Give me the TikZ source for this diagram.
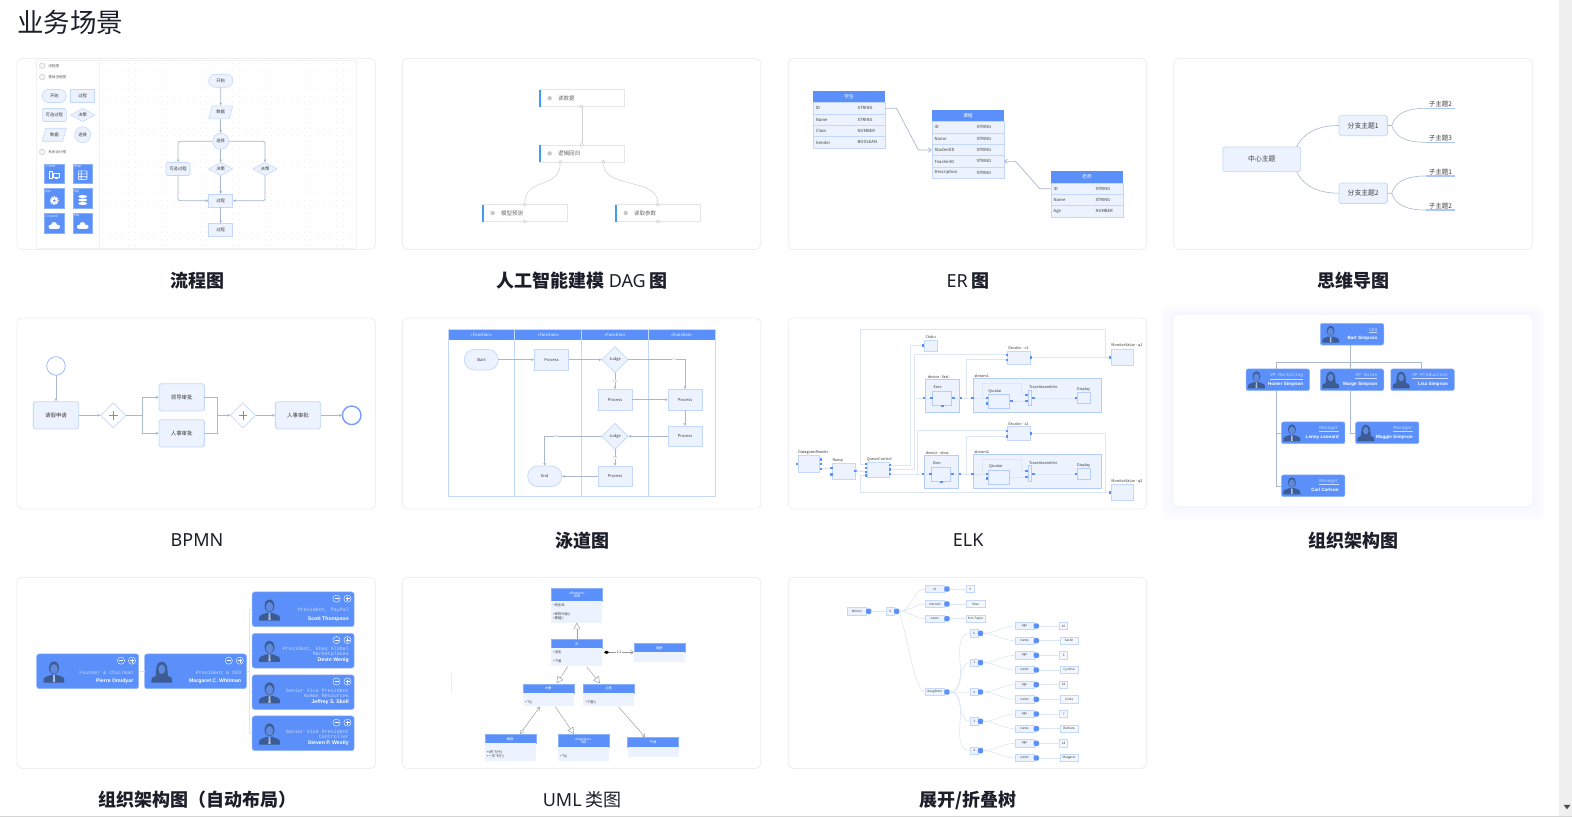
\documentclass[tikz,border=0pt]{standalone}
\usepackage{fontspec}
\setmainfont{Noto Sans CJK SC}
\newfontfamily\monofnt{Liberation Mono}
\newfontfamily\namefnt{Liberation Sans}
\newfontfamily\latinfnt{Noto Sans}
\usepackage{tikz}
\usetikzlibrary{arrows.meta,shapes.geometric,calc}
\definecolor{blueh}{HTML}{5B8FF9}
\definecolor{nodefill}{HTML}{EDF3FE}
\definecolor{nodeline}{HTML}{C3D8FA}
\definecolor{edgeline}{HTML}{A9B8CC}
\definecolor{softline}{HTML}{DDE6F3}
\definecolor{cardline}{HTML}{ECEEF2}
\definecolor{ink}{HTML}{3A3A3A}
\definecolor{titleink}{HTML}{1C1F2A}
\definecolor{avatarc}{HTML}{3D5C94}
\definecolor{avatarf}{HTML}{5F89DC}
\definecolor{paleuline}{HTML}{C9DAFC}
\definecolor{dagblue}{HTML}{3F9BF5}

\begin{document}
\begin{tikzpicture}[x=1pt, y=-1pt,
	every node/.style={inner sep=0pt, outer sep=0pt, text=ink, font=\fontsize{4.3}{4.8}\selectfont},
	>={Latex[length=3pt,width=3pt]},
	fs/.style={font=\fontsize{#1}{#1}\selectfont},
	cardbox/.style={draw=cardline, fill=white, line width=.8pt, rounded corners=5pt, minimum width=358.5pt, minimum height=191pt},
	cardlabel/.style={text=titleink, fs=18},
	fbox/.style={draw=nodeline, fill=nodefill, line width=.6pt, minimum width=24pt, minimum height=13pt},
	fpill/.style={fbox, rounded corners=6.4pt},
	fround/.style={fbox, rounded corners=1.6pt},
	fdia/.style={fbox, diamond, aspect=1.85},
	fpara/.style={fbox, trapezium, trapezium left angle=65, trapezium right angle=115, trapezium stretches=true},
	fcirc/.style={draw=nodeline, fill=nodefill, line width=.6pt, circle, minimum size=16pt},
	fedge/.style={draw=edgeline, line width=.7pt, rounded corners=2pt, ->},
	radio/.style={draw=black!25, fill=black!4, circle, line width=.4pt, minimum size=5.6pt},
	sidetext/.style={text=black!60, fs=3.6},
	iconbox/.style={fill=blueh, draw=blueh!70!white, line width=.4pt, minimum size=19.3pt},
	iconname/.style={text=white!85!blueh, fs=3.6, anchor=north west},
	iconline/.style={draw=white, line width=.6pt},
	dagbox/.style={draw=black!10, fill=white, line width=.6pt, minimum width=85.5pt, minimum height=17pt},
	dagbar/.style={fill=dagblue, minimum width=1.5pt, minimum height=17pt},
	dagport/.style={draw=black!25, fill=white, circle, line width=.35pt, minimum size=3.2pt},
	dagedge/.style={draw=black!17, line width=.6pt},
	dagtext/.style={text=black!60, fs=5.5, anchor=west},
	dagdot/.style={fill=black!22, circle, minimum size=4.4pt},
	erhead/.style={fill=blueh, minimum width=72pt, minimum height=11.7pt, text=white, fs=4.8, anchor=north},
	errow/.style={draw=nodeline, fill=nodefill, line width=.6pt, minimum width=72pt, minimum height=11.33pt, anchor=north},
	ertext/.style={fs=4.2, anchor=west},
	eredge/.style={draw=edgeline, line width=.7pt, -{Straight Barb[length=3pt,width=4.5pt]}},
	mmbox/.style={draw=nodeline, fill=nodefill, line width=.8pt, rounded corners=1.8pt, fs=6.8},
	mmedge/.style={draw=edgeline, line width=.6pt},
	mmleaf/.style={minimum width=29.3pt, minimum height=7.6pt, fs=6.5},
	mmbar/.style={draw=blueh!50, line width=1.2pt},
	bpbox/.style={draw=nodeline, fill=nodefill, line width=.8pt, rounded corners=1.8pt, minimum width=45.3pt, minimum height=27.3pt, fs=5.4},
	bpdia/.style={draw=nodeline, fill=white, line width=.7pt, diamond, minimum size=25pt},
	bpedge/.style={draw=edgeline, line width=.7pt, ->},
	bpline/.style={draw=edgeline, line width=.7pt},
	bpplus/.style={draw=blueh, line width=1pt},
	swbox/.style={draw=nodeline, fill=nodefill, line width=.7pt, minimum width=34pt, minimum height=20.5pt, fs=4},
	swpill/.style={swbox, rounded corners=10pt},
	swdia/.style={draw=nodeline, fill=nodefill, line width=.7pt, diamond, minimum size=26pt, fs=4},
	swedge/.style={draw=edgeline, line width=.6pt, ->},
	swlane/.style={draw=nodeline, line width=.8pt},
	swhead/.style={fill=blueh, text=white, fs=4.2, minimum width=66.8pt, minimum height=10pt},
	swtag/.style={text=black!30, fs=3, fill=white},
	elkbox/.style={draw=nodeline, fill=nodefill, line width=.7pt},
	elkgroup/.style={draw=blueh!45, fill=nodefill, line width=.7pt},
	elkport/.style={fill=blueh, minimum size=2.4pt},
	elkedge/.style={draw=softline, line width=1pt},
	elktext/.style={fs=3.8, anchor=south},
	orgbox/.style={fill=blueh, draw=blueh!65!white, line width=.5pt, rounded corners=2pt, minimum width=63.5pt, minimum height=21.7pt},
	orgline/.style={draw=edgeline, line width=.6pt},
	orgrole/.style={text=paleuline, font=\monofnt\fontsize{4.6}{5}\selectfont, anchor=east},
	orgname/.style={text=white, font=\namefnt\bfseries\fontsize{4.6}{5}\selectfont, anchor=east},
	autobox/.style={orgbox, minimum width=102pt, minimum height=34.7pt, rounded corners=2.5pt},
	autorole/.style={text=paleuline, font=\monofnt\fontsize{5}{5.4}\selectfont, anchor=east, align=right},
	autoname/.style={text=white, font=\namefnt\bfseries\fontsize{5.2}{5.6}\selectfont, anchor=east},
	autobtn/.style={draw=white, circle, line width=.4pt, minimum size=7.2pt},
	umlhead/.style={fill=blueh, draw=blueh!70!white, line width=.4pt, text=white, fs=3.3, minimum width=51pt, anchor=north, align=center},
	umlbody/.style={fill=nodefill, minimum width=51pt, anchor=north},
	umltext/.style={fs=3.3, anchor=west, align=left},
	umledge/.style={draw=black!40, line width=.45pt},
	umltri/.style={umledge, -{Triangle[open, fill=white, length=6.5pt, width=7pt]}},
	umlopen/.style={umledge, -{Straight Barb[length=3pt,width=4pt]}},
	treebox/.style={draw=nodeline, fill=nodefill, line width=.6pt, minimum width=19pt, minimum height=7.3pt, fs=3.1},
	treeval/.style={draw=nodeline, fill=nodefill!60!white, line width=.6pt, minimum height=7.3pt, fs=3.1},
	treebtn/.style={fill=blueh, rounded corners=1.5pt, minimum size=5.4pt},
	treeline/.style={draw=softline, line width=.6pt},
	avatarm/.pic={
		\fill[avatarc] (-8.4,8.5) -- (-8.4,6.2) .. controls (-8.4,3.8) and (-5,3.6) .. (-2.6,2.4) -- (2.6,2.4) .. controls (5,3.6) and (8.4,3.8) .. (8.4,6.2) -- (8.4,8.5) -- cycle;
		\fill[avatarc] (0,-3.4) ellipse (4pt and 5.1pt);
		\fill[avatarf] (0,-2.5) ellipse (3pt and 3.9pt);
		\fill[white!60!avatarc] (-.6,2.6) -- (.6,2.6) -- (.9,8) -- (-.9,8) -- cycle;
	},
	avatarw/.pic={
		\fill[avatarc] (-8.4,8.5) -- (-8.4,6.2) .. controls (-8.4,3.6) and (-5,3.6) .. (-2.6,2.4) -- (2.6,2.4) .. controls (5,3.6) and (8.4,3.6) .. (8.4,6.2) -- (8.4,8.5) -- cycle;
		\fill[avatarc] (-4.9,3.6) .. controls (-4.6,1) and (-5.4,-8.2) .. (0,-8.2) .. controls (5.4,-8.2) and (4.6,1) .. (4.9,3.6) -- cycle;
		\fill[avatarf] (0,-2.2) ellipse (2.8pt and 3.8pt);
	},
	cloudicon/.pic={
		\fill[white] (-3.8,1.2) circle (2pt) (3.8,1.2) circle (2pt) (-.3,-.6) circle (3pt) (-3.8,-.8) rectangle (3.8,3.2);
	},
]
	\useasboundingbox (0,0) rectangle (1572,817);
	\fill[white] (0,0) rectangle (1572,817);
	\fill[black!6] (1559,0) rectangle (1572,816);
	\fill[black!70] (1563.5,804.8) -- (1570.5,804.8) -- (1567,809.2) -- cycle;
	\fill[blue!20!black!17] (0,816) rectangle (1572,817);
	\node[text=titleink, fs=26.5, anchor=west] (pagetitle) at (17,22) {业务场景};

	\foreach \s in {1,...,9}
		\fill[blue!50!cyan, opacity=.004, rounded corners=6pt] (1173.3-\s*1.4,315+\s*.3-\s*1.4) rectangle (1532.7+\s*1.4,505.8+\s*1.8);
	\foreach \nm/\cx/\cy in {a/196.3/153.9, b/581.6/153.9, c/967.5/153.9, d/1353/153.9, e/196.3/413.5, f/581.6/413.5, g/967.5/413.5, i/196.3/673, j/581.6/673, k/967.5/673}
		\node[cardbox] (card\nm) at (\cx,\cy) {};
	\node[cardbox, draw=none] (cardh) at (1353,410.4) {};
	\foreach \nm/\cx/\cy/\txt in {a/197/281/{\bfseries 流程图}, b/582.3/281/{\bfseries 人工智能建模} {\latinfnt DAG} {\bfseries 图}, c/968.2/281/{\latinfnt ER} {\bfseries 图}, d/1353.7/281/{\bfseries 思维导图},
		e/197/540.5/{\latinfnt BPMN}, f/582.3/540.5/{\bfseries 泳道图}, g/968.2/540.5/{\latinfnt ELK}, h/1353.7/540.5/{\bfseries 组织架构图},
		i/197/800/{\bfseries 组织架构图（自动布局）}, j/582.3/800/{\latinfnt UML} 类图, k/968.2/800/{\bfseries 展开/折叠树}}
		\node[cardlabel] (label\nm) at (\cx,\cy) {\txt};

	\begin{scope}
		\draw[black!5, line width=.5pt] (36.7,60.3) -- (356.3,60.3) (36.7,248.4) -- (356.3,248.4) (36.7,60.3) -- (36.7,248.4) (99.3,60.3) -- (99.3,248.4) (356.3,60.3) -- (356.3,248.4);
		\foreach \x in {102,108.5,...,354}
			\foreach \y in {63,69.5,...,246}
				\fill[black!7] (\x,\y) rectangle ++(.6,.6);
		\node[radio] (r1) at (42.3,65.7) {};
		\node[radio] (r2) at (42.3,77) {};
		\node[radio] (r3) at (42.3,152) {};
		\node[sidetext, anchor=west] (r1t) at (48.3,65.7) {流程图};
		\node[sidetext, anchor=west] (r2t) at (48.3,77) {基础流程图};
		\node[sidetext, anchor=west] (r3t) at (48.3,152) {系统设计图};
		\node[fpill] (s1) at (54.3,96) {开始};
		\node[fbox] (s2) at (82.7,96) {过程};
		\node[fround] (s3) at (54.3,115) {可选过程};
		\node[fdia] (s4) at (82.7,115) {决策};
		\node[fpara] (s5) at (54.3,134.7) {数据};
		\node[fcirc] (s6) at (82.7,134.7) {连接};
		\foreach \nm/\cx/\cy/\txt in {ic1/54.3/173.7/Client, ic2/82.7/173.7/Http, ic3/54.3/198.3/Api, ic4/82.7/198.3/Sql, ic5/54.3/223.3/Clound, ic6/82.7/223.3/Mq} {
			\node[iconbox] (\nm) at (\cx,\cy) {};
			\node[iconname] (\nm t) at ([xshift=.8pt,yshift=-.6pt]\nm.north west) {\txt};
		}
		\draw[iconline] (49.7,171) rectangle (52.5,178.3) (53.6,173.4) rectangle (58.8,176.8) (55,178.3) -- (57.5,178.3);
		\draw[iconline, rounded corners=.8pt] (78.4,170.8) rectangle (87,179.6) (78.4,173.8) -- (87,173.8) (78.4,176.7) -- (87,176.7) (81.2,170.8) -- (81.2,179.6);
		\draw[white, line width=1pt, dash pattern=on 1pt off .9pt] (54.3,200.6) circle (4.1pt);
		\fill[white] (54.3,200.6) circle (3.4pt);
		\fill[blueh] (54.3,200.6) circle (1.4pt);
		\foreach \y in {196.5,200,203.5}
			\fill[white] (82.7,\y) ellipse (4.5pt and 1.5pt);
		\pic at (54.3,225.6) {cloudicon};
		\pic at (82.7,225.6) {cloudicon};

		\node[fpill] (f1) at (220.7,80.7) {开始};
		\node[fpara] (f2) at (220.7,112.3) {数据};
		\node[fcirc] (f3) at (220.7,141.3) {选择};
		\node[fround] (f4) at (178,169) {可选过程};
		\node[fdia] (f5) at (220.7,169) {决策};
		\node[fdia] (f6) at (265,169) {决策};
		\node[fbox] (f7) at (220.7,200.7) {过程};
		\node[fbox] (f8) at (220.7,230) {过程};
		\draw[fedge] (f1) -- (f2);
		\draw[fedge] (f2) -- (f3);
		\draw[fedge] (f3) -| (f4);
		\draw[fedge] (f3) -- (f5);
		\draw[fedge] (f3) -| (f6);
		\draw[fedge] (f4) |- (f7);
		\draw[fedge] (f5) -- (f7);
		\draw[fedge] (f6) |- (f7);
		\draw[fedge] (f7) -- (f8);
	\end{scope}

	\begin{scope}
		\foreach \nm/\cx/\cy/\txt in {1/581.8/98.2/读数据, 2/581.8/153.4/逻辑回归, 3/524.8/213/模型预测, 4/657.8/213/读取参数} {
			\node[dagbox] (dag\nm) at (\cx,\cy) {};
			\node[dagbar] (dag\nm b) at ([xshift=.75pt]dag\nm.west) {};
			\node[dagdot] (dag\nm d) at ([xshift=10.6pt]dag\nm.west) {};
			\node[dagtext] (dag\nm t) at ([xshift=19pt]dag\nm.west) {\txt};
		}
		\node[dagport] (dp1) at (dag1.south) {};
		\node[dagport] (dp2) at (dag2.north) {};
		\node[dagport] (dp3) at ([xshift=-21.6pt]dag2.south) {};
		\node[dagport] (dp4) at ([xshift=21.6pt]dag2.south) {};
		\node[dagport] (dp5) at (dag3.north) {};
		\node[dagport] (dp6) at (dag3.south) {};
		\node[dagport] (dp7) at (dag4.north) {};
		\node[dagport] (dp8) at (dag4.south) {};
		\draw[dagedge] (dp1) -- (dp2);
		\draw[dagedge] (dp3) .. controls +(0,27) and +(0,-27) .. (dp5);
		\draw[dagedge] (dp4) .. controls +(0,27) and +(0,-27) .. (dp7);
	\end{scope}

	\begin{scope}
		\foreach \tb/\cx/\ty/\ttl/\rows in {stu/849.1/91/学生/{ID/STRING,Name/STRING,Class/NUMBER,Gender/BOOLEAN},
			cou/967.9/110/课程/{ID/STRING,Name/STRING,StudentID/STRING,TeacherID/STRING,Description/STRING},
			tea/1086.9/171.3/老师/{ID/STRING,Name/STRING,Age/NUMBER}} {
			\node[erhead] (\tb0) at (\cx,\ty) {\ttl};
			\foreach \ka/\va [count=\i] in \rows {
				\node[errow] (\tb\i) at ($(\cx,\ty)+(0,11.7)+(0,11.33*\i-11.33)$) {};
				\node[ertext] (\tb\i k) at ([xshift=2.8pt]\tb\i.west) {\ka};
				\node[ertext] (\tb\i v) at ([xshift=44.6pt]\tb\i.west) {\va};
			}
		}
		\coordinate (erA) at (896.5,108.3);
		\coordinate (erB) at (918.3,150);
		\coordinate (erC) at (1039.7,188.7);
		\coordinate (erD) at (1015.6,161.4);
		\draw[eredge] (stu1.east) -- (erA) -- (erB) -- (cou3.west);
		\draw[eredge] (tea1.west) -- (erC) -- (erD) -- (cou4.east);
	\end{scope}

	\begin{scope}
		\node[mmbox, minimum width=77.7pt, minimum height=24.7pt] (mm0) at (1261.8,159.3) {中心主题};
		\node[mmbox, minimum width=48.3pt, minimum height=20.4pt] (mm1) at (1363.2,125.5) {分支主题1};
		\node[mmbox, minimum width=48.3pt, minimum height=20.4pt] (mm2) at (1363.2,193.2) {分支主题2};
		\foreach \nm/\cy/\txt in {a/104.5/子主题2, b/138.5/子主题3, c/172.2/子主题1, d/206.2/子主题2} {
			\node[mmleaf] (mml\nm) at (1440.3,\cy) {\txt};
			\draw[mmbar] (mml\nm.south west) -- (mml\nm.south east);
		}
		\draw[mmedge] ([xshift=-4pt]mm0.north east) .. controls +(7,-15) and +(-20,0) .. (mm1.west);
		\draw[mmedge] ([xshift=-4pt]mm0.south east) .. controls +(7,15) and +(-20,0) .. (mm2.west);
		\foreach \br/\la/\lb in {1/a/b, 2/c/d} {
			\draw[mmedge] (mm\br.east) -- ++(4.4,0) coordinate (mmj\br) .. controls +(4,-13) and +(-17,0) .. (mml\la.south west);
			\draw[mmedge] (mmj\br) .. controls +(4,13) and +(-17,0) .. (mml\lb.south west);
		}
	\end{scope}

	\begin{scope}
		\node[circle, draw=blueh!60, fill=white, line width=.8pt, minimum size=18.6pt] (bpS) at (56,366) {};
		\node[bpbox] (bp1) at (56,415.3) {请假申请};
		\node[bpdia] (bpg1) at (113.3,415.3) {};
		\node[bpbox] (bp2) at (181.7,397.3) {领导审批};
		\node[bpbox] (bp3) at (181.7,433.3) {人事审批};
		\node[bpdia] (bpg2) at (243,415.3) {};
		\node[bpbox] (bp4) at (298,415.3) {人事审批};
		\node[circle, draw=blueh!85, fill=white, line width=1.4pt, minimum size=18.6pt] (bpE) at (351.7,415.3) {};
		\foreach \g in {bpg1,bpg2}
			\draw[bpplus] ([xshift=-4.2pt]\g.center) -- ([xshift=4.2pt]\g.center) ([yshift=-4.2pt]\g.center) -- ([yshift=4.2pt]\g.center);
		\coordinate (bpJ1) at (142.3,415.3);
		\coordinate (bpJ2) at (217.7,415.3);
		\draw[bpedge] (bpS) -- (bp1);
		\draw[bpedge] (bp1) -- (bpg1);
		\draw[bpline] (bpg1) -- (bpJ1);
		\draw[bpedge] (bpJ1) |- (bp2);
		\draw[bpedge] (bpJ1) |- (bp3);
		\draw[bpline] (bp2) -| (bpJ2);
		\draw[bpline] (bp3) -| (bpJ2);
		\draw[bpedge] (bpJ2) -- (bpg2);
		\draw[bpedge] (bpg2) -- (bp4);
		\draw[bpedge] (bp4) -- (bpE);
	\end{scope}

	\begin{scope}
		\foreach \i/\cx in {1/481.4, 2/548.2, 3/615, 4/681.8}
			\node[swhead] (swh\i) at (\cx,335) {«Function»};
		\draw[swlane] (448,329.7) rectangle (715.3,496.7);
		\foreach \x in {514.7,581.6,648.3}
			\draw[swlane] (\x,329.7) -- (\x,496.7);
		\node[swpill] (sw1) at (481.3,359.7) {Start};
		\node[swbox] (sw2) at (551.5,359.7) {Process};
		\node[swdia] (sw3) at (615,359.7) {Judge};
		\node[swbox] (sw4) at (615,399.7) {Process};
		\node[swbox] (sw5) at (685,399.7) {Process};
		\node[swbox] (sw6) at (685,436.3) {Process};
		\node[swdia] (sw7) at (615,436.3) {Judge};
		\node[swbox] (sw8) at (615,476.3) {Process};
		\node[swpill] (sw9) at (544.7,476.3) {End};
		\draw[swedge] (sw1) -- (sw2);
		\draw[swedge] (sw2) -- (sw3);
		\draw[swedge] (sw3) -| node[swtag, pos=.4] (swn1) {No} (sw5);
		\draw[swedge] (sw3) -- node[swtag] (swy1) {Yes} (sw4);
		\draw[swedge] (sw4) -- (sw5);
		\draw[swedge] (sw5) -- (sw6);
		\draw[swedge] (sw6) -- (sw7);
		\draw[swedge] (sw7) -- node[swtag] (swy2) {Yes} (sw8);
		\draw[swedge] (sw8) -- (sw9);
		\draw[swedge] (sw7) -| node[swtag, pos=.4] (swn2) {No} (sw9);
	\end{scope}

	\begin{scope}
		\foreach \nm/\cx/\cy/\w/\h in {elkR/809/463.7/21.3/16.7, elkP/843.7/471.3/22.7/16, elkQ/878.3/469.8/22/15.7, elkB/931/345.7/13.3/11.3, elkC1/1018.8/357.8/22.3/13.7, elkM1/1122.3/357.3/22/16, elkC2/1018.8/433.5/22.3/14.3, elkM2/1122.3/492.2/22/16.3}
			\node[elkbox, minimum width=\w pt, minimum height=\h pt] (\nm) at (\cx,\cy) {};
		\foreach \nm/\cx/\cy/\w/\h in {elkF/942.3/396/34/32.7, elkS/941.3/472/34/32.7, elkT1/1037.3/395.3/128/34, elkT2/1037.3/471.3/128/34}
			\node[elkgroup, minimum width=\w pt, minimum height=\h pt] (\nm) at (\cx,\cy) {};
		\foreach \nm/\cx/\cy/\w/\h in {elkE1/942.2/398.3/19/14, elkE2/941.3/474.2/19/14, elkV1/999/401/21.3/14, elkV2/999/477/21.3/14, elkA1/1030/397.8/3.3/15.7, elkA2/1030/473.5/3.3/15.7, elkD1/1084/397.8/13.3/11, elkD2/1084/473.8/13.3/11}
			\node[elkgroup, minimum width=\w pt, minimum height=\h pt] (\nm) at (\cx,\cy) {};
		\foreach \nm/\cx/\cy/\txt in {tR/813.3/454/DatagramReader, tP/837.7/462.5/Ramp, tQ/879.3/460.8/QueueControl, tB/930.7/339/Ctxbu, tC1/1018.3/349.5/Oscalor - c1, tM1/1127/347.8/MonitorValue - q1, tF/938.3/379/device - fast, tE1/937.7/388.8/Exec, tT1/981.7/377.5/stream1, tV1/995/392.8/Qscalar, tA1/1043.3/388.5/TraceAssembler, tD1/1083.7/391/Display, tC2/1018.3/425.5/Oscalor - c2, tS/937.3/455/device - slow, tE2/937/464.7/Exec, tT2/981.7/453.5/stream2, tV2/995.7/468.5/Qscalar, tA2/1043.3/464.5/TraceAssembler, tD2/1083.7/467/Display, tM2/1127/483.3/MonitorValue - q2}
			\node[elktext] (\nm) at (\cx,\cy) {\txt};
		\coordinate (elkTL) at (860.7,329.7);
		\coordinate (elkTR) at (1105.3,329.7);
		\coordinate (elkBL) at (860.7,492.3);
		\coordinate (elkBR) at (1105.3,492.3);
		\coordinate (elkX1) at (910,345.3);
		\coordinate (elkX2) at (914,354.7);
		\coordinate (elkX3) at (914,398);
		\coordinate (elkX4) at (917.7,474);
		\coordinate (elkX5) at (966.7,398);
		\coordinate (elkX6) at (966.7,474);
		\coordinate (elkU1) at (982,383.3);
		\coordinate (elkU2) at (1021.3,383.3);
		\coordinate (elkU3) at (982,459.3);
		\coordinate (elkU4) at (1021.3,459.3);
		\foreach \nm/\cx/\cy in {pR0/797/463.7, pR1/821/459.3, pR2/821/464, pR3/821/468.7, pP1/831.3/468, pP2/831.3/474.3, pP3/855.3/471, pQ1/866/464, pQ2/866/468, pQ3/866/471.7, pQ4/866/475.3, pQ5/890/465, pQ6/890/469.3, pQ7/890/474, pB1/923/345.3, pC1/1006.7/354.7, pC2/1006.7/359.7, pC3/1031/357.3, pM1/1110/357.3, pF1/924/398, pF2/960.7/398, pE1/931.3/398, pE2/953.3/398, pE3/942.3/406, pT1/972.3/398, pV1/987/398, pV2/987/403.3, pV3/1011.3/401, pA1/1026.3/394.7, pA2/1026.3/401, pA3/1033.3/398, pD1/1076/398, pK1/1006.7/430.7, pK2/1006.7/436.3, pK3/1031/433.3, pS1/923/474, pS2/959.7/474, pG1/930.3/474, pG2/952.3/474, pG3/941.3/481.7, pT2/972.3/474, pW1/987/474, pW2/987/478.3, pA4/1026.3/470.7, pA5/1026.3/477, pA6/1033.3/474, pD2/1076/474, pM2/1110/492.3}
			\node[elkport] (\nm) at (\cx,\cy) {};
		\draw[elkedge] (pQ1) -| (elkTL) -- (elkTR) |- (pM1);
		\draw[elkedge] (pQ4) -| (elkBL) -- (pM2);
		\draw[elkedge] (pC3) -- (pM1);
		\draw[elkedge] (pK3) -| (elkBR);
		\draw[elkedge] (pQ5) -| (elkX1) -- (pB1);
		\draw[elkedge] (pQ6) -| (elkX2) -- (pC1);
		\draw[elkedge] (elkX3) -- (pF1);
		\draw[elkedge] (pQ7) -- (pS1);
		\draw[elkedge] (elkX4) |- (pK1);
		\draw[elkedge] (pF2) -- (pT1);
		\draw[elkedge] (elkX5) |- (pC2);
		\draw[elkedge] (pS2) -- (pT2);
		\draw[elkedge] (elkX6) |- (pK2);
		\draw[elkedge] (pR3) -- (pP1);
		\draw[elkedge] (pP3) -- (pQ3);
		\draw[elkedge] (pF1) -- (pE1);
		\draw[elkedge] (pE2) -- (pF2);
		\draw[elkedge] (pS1) -- (pG1);
		\draw[elkedge] (pG2) -- (pS2);
		\draw[elkedge] (pT1) -- (pV1);
		\draw[elkedge] (pV3) -- (pA2);
		\draw[elkedge] (pA3) -- (pD1);
		\draw[elkedge] (pV1) -| (elkU1) -- (elkU2) |- (pA1);
		\draw[elkedge] (pT2) -- (pW1);
		\draw[elkedge] (elkV2.east |- pA5) -- (pA5);
		\draw[elkedge] (pA6) -- (pD2);
		\draw[elkedge] (pW1) -| (elkU3) -- (elkU4) |- (pA4);
	\end{scope}

	\begin{scope}
		\foreach \i/\cx/\cy/\av/\ttl/\who in {0/1352/334.2/avatarm/CEO/Bart Simpson, 1/1277.8/379.8/avatarm/VP Marketing/Homer Simpson, 2/1352/379.8/avatarw/VP Sales/Marge Simpson, 3/1422.5/379.8/avatarw/VP Production/Lisa Simpson, 4/1313.2/432.8/avatarm/Manager/Lenny Leonard, 5/1387.2/432.8/avatarw/Manager/Maggie Simpson, 6/1313.2/485.8/avatarm/Manager/Carl Carlson} {
			\node[orgbox] (org\i) at (\cx,\cy) {};
			\pic at ([xshift=10.4pt]org\i.west) {\av};
			\node[orgrole] (org\i r) at ([xshift=-6.3pt,yshift=3.6pt]org\i.east) {\underline{\ttl}};
			\node[orgname] (org\i n) at ([xshift=-6.3pt,yshift=-4.2pt]org\i.east) {\who};
		}
		\coordinate (orgbus) at (1350.5,362);
		\draw[orgline] ([xshift=-1.5pt]org0.south) -- (orgbus);
		\draw[orgline] (orgbus) -| ([xshift=-1.5pt]org1.north);
		\draw[orgline] (orgbus) -- ([xshift=-1.5pt]org2.north);
		\draw[orgline] (orgbus) -| ([xshift=-1.5pt]org3.north);
		\draw[orgline] ([xshift=-1.5pt]org1.south) |- (org4.west);
		\draw[orgline] ([xshift=-1.5pt]org1.south) |- (org6.west);
		\draw[orgline] ([xshift=-1.5pt]org2.south) |- (org5.west);
	\end{scope}

	\begin{scope}
		\foreach \i/\cx/\cy/\av/\ttl/\who in {0/87.7/671.3/avatarm/{Founder \& Chairman}/Pierre Omidyar, 1/195.5/671.3/avatarw/{President \& CEO}/Margaret C. Whitman, 2/303.2/609.3/avatarm/{President, PayPal}/Scott Thompson, 3/303.2/650.7/avatarm/{President, Ebay Global\\Marketplaces}/Devin Wenig, 4/303.2/692.2/avatarm/{Senior Vice President\\Human Resources}/Jeffrey S. Skoll, 5/303.2/733.3/avatarm/{Senior Vice President\\Controller}/Steven P. Westly} {
			\node[autobox] (auto\i) at (\cx,\cy) {};
			\pic[scale=1.24] at ([xshift=17.3pt,yshift=-.7pt]auto\i.west) {\av};
			\node[autorole] (auto\i r) at ([xshift=-5.4pt,yshift=-1pt]auto\i.east) {\ttl};
			\node[autoname] (auto\i n) at ([xshift=-5.4pt,yshift=-9.5pt]auto\i.east) {\who};
			\node[autobtn] (auto\i m) at ([xshift=-17.7pt,yshift=-6.7pt]auto\i.north east) {};
			\node[autobtn] (auto\i p) at ([xshift=-6.7pt,yshift=-6.7pt]auto\i.north east) {};
			\draw[white, line width=.4pt] ([xshift=-2pt]auto\i m.center) -- ([xshift=2pt]auto\i m.center);
			\draw[white, line width=.4pt] ([xshift=-2pt]auto\i p.center) -- ([xshift=2pt]auto\i p.center) ([yshift=-2pt]auto\i p.center) -- ([yshift=2pt]auto\i p.center);
		}
		\coordinate (autobus) at (249.3,671.3);
		\draw[orgline, softline, line width=.8pt] (auto0) -- (auto1);
		\foreach \i in {2,...,5}
			\draw[orgline, softline, line width=.8pt] (auto1) -- (autobus) |- (auto\i);
	\end{scope}

	\begin{scope}
		\foreach \nm/\cx/\ty/\hh/\bh/\ttl in {a/576.8/588.3/12.7/21.7/{«Abstract»\\动物}, b/576.8/639.3/9/17.4/鸟, c/659.3/643.3/9/9.7/翅膀, d/548.2/684/8.7/13.6/大雁, e/608.7/684/8.7/13.6/企鹅, f/510.2/734.3/9/17.7/雁群, g/583.2/734.3/13/13.7/{«Interface»\\飞翔}, h/653/737.3/9.4/10/气候} {
			\node[umlhead, minimum height=\hh pt] (umlh\nm) at (\cx,\ty) {\ttl};
			\node[umlbody, minimum height=\bh pt] (umlb\nm) at (umlh\nm.south) {};
		}
		\foreach \nm/\cx/\cy/\txt in {1/553/605.3/+有生命, 2/553/616.3/{+新陈代谢()\\+繁殖()}, 3/553/652.3/+羽毛, 4/553/661.3/+下蛋, 5/525/702/+飞(), 6/585.3/702/+下蛋(), 7/486.7/754.7/{+V形飞行()\\+一字飞行()}, 8/560/756.7/+飞()}
			\node[umltext] (umlt\nm) at (\cx,\cy) {\txt};
		\coordinate (umlA) at (567.7,666.7);
		\coordinate (umlB) at (556.7,683.3);
		\coordinate (umlC) at (586.7,666.7);
		\coordinate (umlD) at (600,683.3);
		\coordinate (umlE) at (520,734);
		\coordinate (umlF) at (540,706.7);
		\coordinate (umlG) at (555.3,706.7);
		\coordinate (umlH) at (574,734);
		\coordinate (umlI) at (618.3,706.7);
		\coordinate (umlJ) at (645,737);
		\coordinate (umlK) at (604,652.3);
		\coordinate (umlL) at (450.7,673);
		\coordinate (umlM) at (450.7,693);
		\draw[umltri] (umlhb.north) -- (umlba.south);
		\draw[umledge, {Diamond[black,length=5pt,width=3.4pt]}-{Straight Barb[length=3pt,width=4pt]}] (umlK) -- node[fill=white, fs=3.4, inner sep=.5pt] (umlq) {1:2} (umlhc.south west);
		\draw[umltri] (umlA) -- (umlB);
		\draw[umltri] (umlC) -- (umlD);
		\draw[umledge, {Diamond[open,fill=white,length=6pt,width=3.6pt]}-{Straight Barb[length=3pt,width=4pt]}] (umlE) -- (umlF);
		\draw[umltri] (umlG) -- (umlH);
		\draw[umlopen] (umlI) -- (umlJ);
		\draw[black!7, line width=.4pt] (umlL) -- (umlM);
	\end{scope}

	\begin{scope}
		\node[treebox] (tfa) at (856.8,611.3) {fathers};
		\node[treebtn] (tfab) at (868.7,611.3) {};
		\node[treebox, minimum width=7.6pt] (tz) at (890.5,611.3) {0};
		\node[treebtn] (tzb) at (896.7,611.3) {};
		\draw[treeline] (tfab) -- (tz);
		\foreach \nm/\cy/\txt/\val/\w in {a/589/id/0/8, b/604/married/false/18.3, c/618.7/name/Kim Taylor/18.3} {
			\node[treebox] (t\nm) at (934.8,\cy) {\txt};
			\node[treebtn] (t\nm b) at (947,\cy) {};
			\node[treeval, minimum width=\w pt] (t\nm v) at ($(966.5,\cy)+(\w/2,0)$) {\val};
			\draw[treeline] (tzb) to[out=0, in=180] (t\nm);
			\draw[treeline] (t\nm b) -- (t\nm v);
		}
		\node[treebox] (td) at (934.8,692) {daughters};
		\node[treebtn] (tdb) at (947,692) {};
		\draw[treeline] (tzb.east) .. controls (908,640) and (915,692) .. (td.west);
		\foreach \i/\ya/\yn/\va/\vb in {0/626/640.7/20/Sarah, 1/655.3/670/5/Cynthia, 2/684.7/699.3/16/Linda, 3/714/728.7/7/Barbara, 4/743.3/758/18/Margaret} {
			\node[treebox, minimum width=7.6pt] (tc\i) at (974.3,{(\ya+\yn)/2}) {\i};
			\node[treebtn] (tc\i b) at (980.5,{(\ya+\yn)/2}) {};
			\draw[treeline] (tdb) to[out=0, in=180] (tc\i);
			\node[treebox] (tc\i a) at (1024.5,\ya) {age};
			\node[treebtn] (tc\i ab) at (1036.3,\ya) {};
			\node[treeval, minimum width=8pt] (tc\i av) at (1063.7,\ya) {\va};
			\node[treebox] (tc\i n) at (1024.5,\yn) {name};
			\node[treebtn] (tc\i nb) at (1036.3,\yn) {};
			\node[treeval, minimum width=18.3pt] (tc\i nv) at (1069,\yn) {\vb};
			\draw[treeline] (tc\i b) to[out=0, in=180] (tc\i a);
			\draw[treeline] (tc\i b) to[out=0, in=180] (tc\i n);
			\draw[treeline] (tc\i ab) -- (tc\i av);
			\draw[treeline] (tc\i nb) -- (tc\i nv);
		}
	\end{scope}
\end{tikzpicture}
\end{document}
